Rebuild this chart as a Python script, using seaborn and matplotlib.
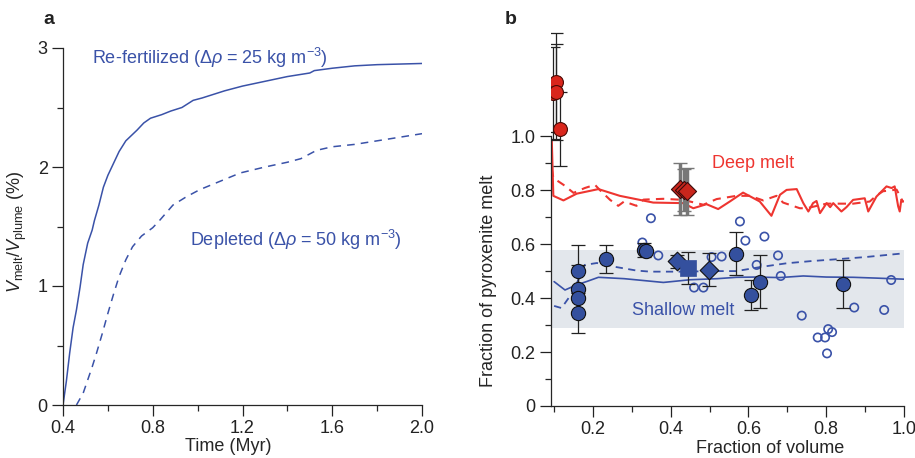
import numpy as np
import pandas as pd
import matplotlib
matplotlib.use("Agg")
import matplotlib.pyplot as plt
import seaborn as sns

# ---------------- data: panel a ----------------
t_refert = [0.40, 0.415, 0.43, 0.445, 0.46, 0.476, 0.49, 0.51, 0.53, 0.54, 0.56, 0.58, 0.60,
            0.63, 0.65, 0.68, 0.73, 0.76, 0.79, 0.84, 0.88, 0.93, 0.98, 1.02, 1.07, 1.12,
            1.20, 1.30, 1.40, 1.50, 1.52, 1.60, 1.70, 1.80, 1.90, 2.00]
v_refert = [0.0, 0.20, 0.44, 0.65, 0.80, 0.99, 1.18, 1.36, 1.47, 1.55, 1.68, 1.83, 1.93,
            2.05, 2.13, 2.22, 2.31, 2.37, 2.41, 2.44, 2.47, 2.50, 2.56, 2.58, 2.61, 2.64,
            2.68, 2.72, 2.76, 2.79, 2.81, 2.83, 2.85, 2.86, 2.865, 2.87]
t_depl = [0.46, 0.49, 0.51, 0.53, 0.55, 0.575, 0.60, 0.625, 0.65, 0.68, 0.71, 0.75, 0.80,
          0.83, 0.89, 0.95, 1.01, 1.10, 1.19, 1.30, 1.40, 1.46, 1.53, 1.60, 1.70, 1.80,
          1.90, 2.00]
v_depl = [0.0, 0.10, 0.21, 0.32, 0.44, 0.60, 0.77, 0.93, 1.08, 1.22, 1.33, 1.42, 1.49,
          1.55, 1.68, 1.75, 1.81, 1.88, 1.95, 2.00, 2.04, 2.07, 2.14, 2.17, 2.19, 2.22,
          2.25, 2.28]

# ---------------- data: panel b ----------------
deep_solid_x = [0.094, 0.098, 0.124, 0.158, 0.214, 0.269, 0.355, 0.432, 0.458, 0.492, 0.522,
                0.552, 0.586, 0.629, 0.659, 0.681, 0.698, 0.724, 0.741, 0.754, 0.766, 0.775,
                0.784, 0.801, 0.810, 0.818, 0.839, 0.852, 0.869, 0.899, 0.908, 0.929, 0.955,
                0.968, 0.976, 0.985, 0.989, 0.993, 0.998]
deep_solid_y = [0.987, 0.779, 0.762, 0.787, 0.804, 0.779, 0.754, 0.752, 0.733, 0.748, 0.730,
                0.758, 0.791, 0.758, 0.705, 0.783, 0.801, 0.804, 0.752, 0.721, 0.752, 0.760,
                0.715, 0.752, 0.737, 0.752, 0.721, 0.737, 0.764, 0.770, 0.721, 0.776, 0.814,
                0.808, 0.814, 0.740, 0.721, 0.764, 0.758]
deep_dash_x = [0.094, 0.098, 0.124, 0.150, 0.179, 0.205, 0.218, 0.244, 0.265, 0.280, 0.312,
               0.330, 0.381, 0.432, 0.484, 0.518, 0.569, 0.603, 0.638, 0.672, 0.689, 0.732,
               0.749, 0.801, 0.869, 0.912, 0.929, 0.946, 0.981, 0.998]
deep_dash_y = [0.88, 0.845, 0.820, 0.790, 0.808, 0.820, 0.800, 0.764, 0.742, 0.758, 0.742,
               0.765, 0.768, 0.764, 0.746, 0.767, 0.779, 0.779, 0.762, 0.779, 0.754, 0.733,
               0.733, 0.750, 0.750, 0.758, 0.780, 0.796, 0.802, 0.755]
shallow_solid_x = [0.100, 0.128, 0.158, 0.185, 0.214, 0.280, 0.381, 0.450, 0.520, 0.569,
                   0.620, 0.680, 0.741, 0.800, 0.870, 0.930, 1.000]
shallow_solid_y = [0.461, 0.430, 0.449, 0.462, 0.477, 0.472, 0.458, 0.468, 0.472, 0.477,
                   0.478, 0.476, 0.482, 0.478, 0.477, 0.474, 0.470]
shallow_dash_x = [0.100, 0.119, 0.149, 0.179, 0.210, 0.260, 0.312, 0.347, 0.441, 0.500,
                  0.569, 0.630, 0.698, 0.760, 0.827, 0.900, 1.000]
shallow_dash_y = [0.371, 0.363, 0.424, 0.523, 0.530, 0.515, 0.502, 0.498, 0.498, 0.500,
                  0.500, 0.515, 0.529, 0.537, 0.544, 0.552, 0.566]

band_low, band_high = 0.29, 0.579

red_circ_x = [0.096, 0.105, 0.106, 0.115]
red_circ_y = [1.160, 1.200, 1.163, 1.028]
red_circ_err = [0.170, 0.183, 0.177, 0.137]

red_diam_x = [0.425, 0.433, 0.442]
red_diam_y = [0.804, 0.800, 0.796]
red_diam_err = [0.095, 0.078, 0.087]

blue_circ_x = [0.162, 0.162, 0.162, 0.162, 0.233, 0.331, 0.337, 0.569, 0.606, 0.629, 0.842]
blue_circ_y = [0.502, 0.433, 0.400, 0.346, 0.544, 0.579, 0.576, 0.564, 0.412, 0.461, 0.453]
blue_circ_err = [0.093, 0.090, 0.0, 0.074, 0.051, 0.026, 0.0, 0.080, 0.056, 0.097, 0.088]

blue_diam_x = [0.417, 0.499]
blue_diam_y = [0.536, 0.505]
blue_diam_err = [0.025, 0.062]

blue_sq_x = [0.445]
blue_sq_y = [0.511]
blue_sq_err = [0.060]

open_x = [0.349, 0.578, 0.327, 0.368, 0.460, 0.484, 0.505, 0.531, 0.592, 0.641, 0.621,
          0.676, 0.683, 0.737, 0.778, 0.797, 0.805, 0.815, 0.802, 0.872, 0.949, 0.967]
open_y = [0.696, 0.684, 0.606, 0.558, 0.439, 0.439, 0.552, 0.554, 0.613, 0.628, 0.523,
          0.558, 0.482, 0.335, 0.254, 0.254, 0.285, 0.274, 0.195, 0.365, 0.356, 0.467]

# ---------------- style ----------------
sns.set_style("ticks")
plt.rcParams["font.family"] = ["Liberation Sans", "DejaVu Sans"]
plt.rcParams["mathtext.fontset"] = "custom"
plt.rcParams["mathtext.rm"] = "Liberation Sans"
plt.rcParams["mathtext.it"] = "Liberation Sans:italic"
plt.rcParams["mathtext.bf"] = "Liberation Sans:bold"
plt.rcParams["axes.linewidth"] = 0.9
plt.rcParams["text.color"] = "#222222"

BLUE = "#3A52A8"
RED = "#EE3530"
FS = 13

fig = plt.figure(figsize=(9.15, 4.58), dpi=100)
axa = fig.add_axes([63 / 915, 1 - 405 / 458, 359 / 915, 357 / 458])
axb = fig.add_axes([551 / 915, 1 - 406 / 458, 353 / 915, 375 / 458])

def style_ticks(ax):
    ax.tick_params(which="major", direction="out", length=8, width=0.9, labelsize=FS,
                   pad=3, colors="#222222")
    ax.tick_params(which="minor", direction="out", length=4, width=0.9)
    for s in ["top", "right"]:
        ax.spines[s].set_visible(False)

# ---------------- panel a ----------------
dfa1 = pd.DataFrame({"t": t_refert, "v": v_refert})
dfa2 = pd.DataFrame({"t": t_depl, "v": v_depl})
sns.lineplot(data=dfa1, x="t", y="v", ax=axa, color=BLUE, lw=1.1, sort=False, estimator=None)
sns.lineplot(data=dfa2, x="t", y="v", ax=axa, color=BLUE, lw=1.1, sort=False, estimator=None,
             linestyle=(0, (5, 4)))
axa.set_xlim(0.4, 2.0)
axa.set_ylim(0, 3)
axa.set_xticks([0.4, 0.8, 1.2, 1.6, 2.0])
axa.set_xticklabels(["0.4", "0.8", "1.2", "1.6", "2.0"])
axa.set_xticks([0.6, 1.0, 1.4, 1.8], minor=True)
axa.set_yticks([0, 1, 2, 3])
axa.set_yticklabels(["0", "1", "2", "3"])
axa.set_yticks([0.5, 1.5, 2.5], minor=True)
style_ticks(axa)
axa.set_xlabel("Time (Myr)", fontsize=FS)
axa.set_ylabel(r"$V_{\mathrm{melt}}/V_{\mathrm{plume}}$ (%)", fontsize=FS)
axa.xaxis.set_label_coords(0.46, -0.092)
axa.yaxis.set_label_coords(-0.095, 0.485)
axa.text(0.53, 2.92, r"Re-fertilized ($\Delta\rho$ = 25 kg m$^{-3}$)", color=BLUE,
         fontsize=FS, va="center", ha="left")
axa.text(0.966, 1.39, r"Depleted ($\Delta\rho$ = 50 kg m$^{-3}$)", color=BLUE,
         fontsize=FS, va="center", ha="left")

# ---------------- panel b ----------------
axb.set_xlim(0.092, 1.0)
axb.set_ylim(0, 1.39)
axb.fill_between([0.092, 1.0], band_low, band_high, color="#E3E7EC", lw=0, zorder=0)

sns.lineplot(x=deep_solid_x, y=deep_solid_y, ax=axb, color=RED, lw=1.5, sort=False,
             estimator=None, zorder=2)
sns.lineplot(x=deep_dash_x, y=deep_dash_y, ax=axb, color=RED, lw=1.5, sort=False,
             estimator=None, linestyle=(0, (4, 3)), zorder=2)
sns.lineplot(x=shallow_solid_x, y=shallow_solid_y, ax=axb, color=BLUE, lw=1.2, sort=False,
             estimator=None, zorder=2)
sns.lineplot(x=shallow_dash_x, y=shallow_dash_y, ax=axb, color=BLUE, lw=1.3, sort=False,
             estimator=None, linestyle=(0, (4, 3)), zorder=2)

# open circles
sns.scatterplot(x=open_x, y=open_y, ax=axb, marker="o", s=36, facecolor="none",
                edgecolor=BLUE, linewidth=1.2, zorder=3)

# error bars
axb.errorbar(red_circ_x, red_circ_y, yerr=red_circ_err, fmt="none", ecolor="#222222",
             elinewidth=0.9, capsize=5, capthick=0.9, zorder=4)
eb = axb.errorbar(red_diam_x, red_diam_y, yerr=red_diam_err, fmt="none", ecolor="#777777",
                  elinewidth=2.5, capsize=5, capthick=1.0, zorder=4)
for cl in eb[1]:
    cl.set_color("#222222")
axb.errorbar(blue_circ_x, blue_circ_y, yerr=blue_circ_err, fmt="none", ecolor="#222222",
             elinewidth=0.9, capsize=5, capthick=0.9, zorder=4)
axb.errorbar(blue_diam_x, blue_diam_y, yerr=blue_diam_err, fmt="none", ecolor="#222222",
             elinewidth=0.9, capsize=5, capthick=0.9, zorder=4)
axb.errorbar(blue_sq_x, blue_sq_y, yerr=blue_sq_err, fmt="none", ecolor="#222222",
             elinewidth=0.9, capsize=5, capthick=0.9, zorder=4)

# filled markers
sns.scatterplot(x=red_circ_x, y=red_circ_y, ax=axb, marker="o", s=100, color="#D9261C",
                edgecolor="#4a0a05", linewidth=0.8, zorder=5)
sns.scatterplot(x=red_diam_x, y=red_diam_y, ax=axb, marker="D", s=85, color="#C9261C",
                edgecolor="#3a0a0a", linewidth=0.8, zorder=5)
sns.scatterplot(x=blue_circ_x, y=blue_circ_y, ax=axb, marker="o", s=105, color="#34509E",
                edgecolor="#111111", linewidth=0.8, zorder=5)
sns.scatterplot(x=blue_diam_x, y=blue_diam_y, ax=axb, marker="D", s=90, color="#34509E",
                edgecolor="#111111", linewidth=0.8, zorder=5)
sns.scatterplot(x=blue_sq_x, y=blue_sq_y, ax=axb, marker="s", s=120, color="#34509E",
                edgecolor="#34509E", linewidth=0.5, zorder=5)

axb.set_xticks([0.2, 0.4, 0.6, 0.8, 1.0])
axb.set_xticklabels(["0.2", "0.4", "0.6", "0.8", "1.0"])
axb.set_xticks([0.1, 0.3, 0.5, 0.7, 0.9], minor=True)
axb.set_yticks([0, 0.2, 0.4, 0.6, 0.8, 1.0])
axb.set_yticklabels(["0", "0.2", "0.4", "0.6", "0.8", "1.0"])
axb.set_yticks([0.1, 0.3, 0.5, 0.7, 0.9], minor=True)
style_ticks(axb)
axb.spines["left"].set_bounds(0, 1.0)
axb.set_xlabel("Fraction of volume", fontsize=FS)
axb.set_ylabel("Fraction of pyroxenite melt", fontsize=FS)
axb.xaxis.set_label_coords(0.62, -0.09)
axb.yaxis.set_label_coords(-0.153, 0.333)
axb.text(0.505, 0.90, "Deep melt", color=RED, fontsize=FS, va="center", ha="left")
axb.text(0.30, 0.354, "Shallow melt", color=BLUE, fontsize=FS, va="center", ha="left")

fig.text(43 / 915, 1 - 28 / 458, "a", fontsize=14, fontweight="bold", ha="left", va="bottom")
fig.text(505 / 915, 1 - 28 / 458, "b", fontsize=14, fontweight="bold", ha="left", va="bottom")

fig.savefig("out.png", dpi=100)
